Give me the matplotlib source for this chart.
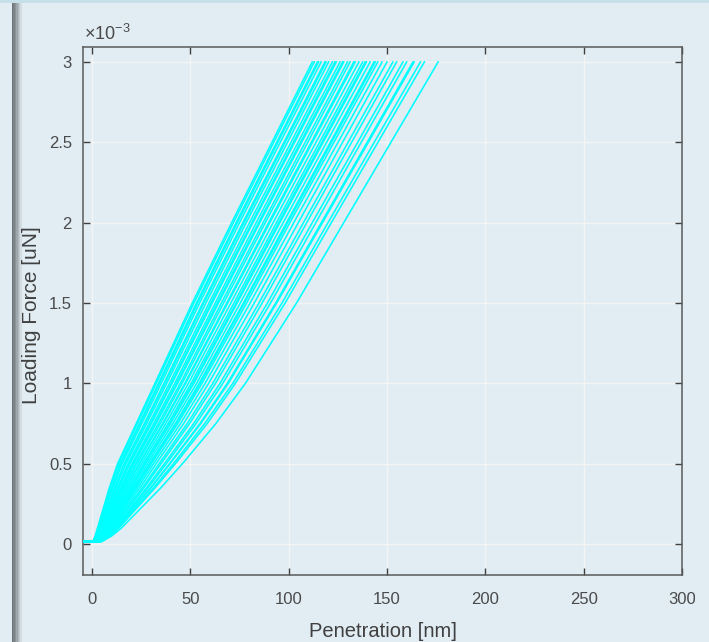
import matplotlib
matplotlib.use("Agg")
import matplotlib.pyplot as plt
from matplotlib.ticker import FuncFormatter
from matplotlib.patches import Rectangle
from matplotlib.transforms import Bbox

plt.rcParams['font.family'] = ['Liberation Sans', 'DejaVu Sans']
plt.rcParams['mathtext.fontset'] = 'custom'
plt.rcParams['mathtext.rm'] = 'Liberation Sans'
plt.rcParams['mathtext.it'] = 'Liberation Sans'

# ---------------- data ----------------
# load levels (uN) at which each curve's penetration depth was read;
# the first entry is the pre-contact point
load_levels = [0.000015, 0.000015, 0.00005, 0.0001, 0.0002, 0.00035, 0.0005,
               0.00075, 0.0010, 0.0015, 0.0020, 0.0025, 0.0030]

precontact_depth = -6.0

# penetration depth (nm) of each loading curve at the load levels above (after pre-contact)
curves = [
    [0.5, 1.6, 2.8, 5.2, 8.8, 13.0, 22.5, 32.0, 51.0, 71.0, 91.5, 112.0],
    [0.6, 1.7, 3.0, 5.5, 9.2, 13.5, 23.1, 32.7, 51.8, 71.9, 92.4, 113.0],
    [0.7, 1.9, 3.3, 5.9, 9.9, 14.3, 24.1, 33.8, 53.1, 73.3, 93.9, 114.6],
    [0.7, 2.0, 3.4, 6.1, 10.1, 14.7, 24.5, 34.3, 53.7, 73.9, 94.5, 115.2],
    [0.8, 2.2, 3.7, 6.5, 10.6, 15.3, 25.3, 35.2, 54.7, 75.0, 95.7, 116.5],
    [1.0, 2.4, 4.0, 7.0, 11.4, 16.3, 26.6, 36.6, 56.3, 76.7, 97.6, 118.4],
    [1.0, 2.5, 4.1, 7.2, 11.7, 16.6, 27.0, 37.1, 56.8, 77.3, 98.2, 119.0],
    [1.1, 2.7, 4.4, 7.5, 12.2, 17.3, 27.8, 38.0, 57.9, 78.4, 99.4, 120.3],
    [1.2, 2.9, 4.8, 8.1, 13.0, 18.3, 29.0, 39.4, 59.5, 80.1, 101.2, 122.2],
    [1.3, 3.1, 5.0, 8.4, 13.5, 18.9, 29.8, 40.3, 60.5, 81.3, 102.4, 123.5],
    [1.4, 3.2, 5.1, 8.6, 13.8, 19.3, 30.2, 40.7, 61.1, 81.8, 103.0, 124.2],
    [1.5, 3.5, 5.5, 9.1, 14.6, 20.3, 31.4, 42.1, 62.7, 83.5, 104.8, 126.1],
    [1.6, 3.6, 5.7, 9.5, 15.1, 20.9, 32.2, 43.0, 63.7, 84.7, 106.0, 127.4],
    [1.6, 3.7, 5.9, 9.7, 15.4, 21.3, 32.6, 43.5, 64.3, 85.3, 106.6, 128.0],
    [1.8, 4.0, 6.2, 10.2, 16.1, 22.2, 33.8, 44.9, 65.8, 87.0, 108.4, 129.9],
    [1.9, 4.1, 6.5, 10.5, 16.7, 22.9, 34.7, 45.8, 66.9, 88.1, 109.7, 131.2],
    [2.0, 4.4, 6.8, 11.1, 17.5, 23.9, 35.9, 47.2, 68.5, 89.8, 111.5, 133.1],
    [2.0, 4.5, 7.0, 11.3, 17.7, 24.2, 36.3, 47.6, 69.0, 90.4, 112.1, 133.8],
    [2.2, 4.7, 7.3, 11.8, 18.5, 25.2, 37.5, 49.0, 70.6, 92.1, 113.9, 135.7],
    [2.3, 5.0, 7.7, 12.3, 19.3, 26.2, 38.7, 50.4, 72.2, 93.8, 115.7, 137.6],
    [2.4, 5.1, 7.9, 12.7, 19.8, 26.9, 39.5, 51.3, 73.3, 94.9, 116.9, 138.9],
    [2.4, 5.2, 8.1, 12.9, 20.1, 27.2, 39.9, 51.8, 73.8, 95.5, 117.5, 139.5],
    [2.6, 5.5, 8.4, 13.4, 20.9, 28.2, 41.1, 53.2, 75.4, 97.2, 119.3, 141.4],
    [2.7, 5.7, 8.8, 13.9, 21.6, 29.2, 42.4, 54.5, 77.0, 98.9, 121.2, 143.4],
    [2.8, 5.8, 8.9, 14.1, 21.9, 29.5, 42.8, 55.0, 77.5, 99.5, 121.8, 144.0],
    [2.8, 6.0, 9.1, 14.5, 22.4, 30.2, 43.6, 55.9, 78.6, 100.6, 123.0, 145.3],
    [3.0, 6.3, 9.6, 15.1, 23.3, 31.3, 45.0, 57.5, 80.4, 102.6, 125.1, 147.5],
    [3.2, 6.6, 10.1, 15.8, 24.4, 32.6, 46.6, 59.3, 82.5, 104.9, 127.4, 150.0],
    [3.4, 7.0, 10.6, 16.6, 25.6, 34.1, 48.4, 61.4, 84.9, 107.5, 130.2, 153.0],
    [3.5, 7.2, 11.0, 17.1, 26.4, 35.1, 49.6, 62.8, 86.5, 109.2, 132.0, 154.9],
    [3.7, 7.7, 11.6, 18.0, 27.7, 36.8, 51.7, 65.1, 89.2, 112.0, 135.1, 158.1],
    [3.9, 7.9, 12.0, 18.6, 28.5, 37.8, 52.9, 66.5, 90.8, 113.8, 136.9, 160.0],
    [4.1, 8.3, 12.6, 19.4, 29.8, 39.4, 54.9, 68.8, 93.4, 116.6, 139.9, 163.2],
    [4.2, 8.4, 12.7, 19.6, 30.0, 39.7, 55.3, 69.3, 93.9, 117.2, 140.5, 163.8],
    [4.4, 8.8, 13.3, 20.5, 31.3, 41.4, 57.3, 71.6, 96.6, 120.0, 143.5, 167.0],
    [4.5, 9.1, 13.7, 21.0, 32.1, 42.4, 58.6, 72.9, 98.2, 121.7, 145.4, 169.0],
    [5.0, 10.0, 15.0, 23.0, 35.0, 46.0, 63.0, 78.0, 104.0, 128.0, 152.0, 176.0],
]

x_ticks = [0, 50, 100, 150, 200, 250, 300]
y_ticks = [0, 0.0005, 0.0010, 0.0015, 0.0020, 0.0025, 0.0030]
x_label = "Penetration [nm]"
y_label = "Loading Force [uN]"
y_exponent_text = "×10$^{\\mathregular{-3}}$"

# ---------------- figure ----------------
bg = '#e1edf3'
fig = plt.figure(figsize=(7.09, 6.42), dpi=100, facecolor=bg)

# window decorations: top strip and left shadow bar
fig.patches.append(Rectangle((0, 1 - 3 / 642), 1, 3 / 642, transform=fig.transFigure,
                             facecolor='#c6e0ea', edgecolor='none', zorder=-10))
shade = ['#6e7478', '#7d8488', '#8d9599', '#9ea7ab', '#b0b9bd', '#c2cbcf', '#d2dce1']
for i, c in enumerate(shade):
    fig.patches.append(Rectangle(((12 + i * 1.4) / 709, 0), 1.4 / 709, 1 - 3 / 642,
                                 transform=fig.transFigure, facecolor=c,
                                 edgecolor='none', zorder=-10))

ax = fig.add_axes([83 / 709, 1 - 575 / 642, 599 / 709, 528 / 642])
ax.set_facecolor(bg)

for c in curves:
    ax.plot([precontact_depth] + c, load_levels, color='#00ffff', lw=1.15, zorder=3)

ax.set_xlim(-4.6, 300)
ax.set_ylim(-0.000193, 0.003093)
ax.set_xticks(x_ticks)
ax.set_yticks(y_ticks)
ax.yaxis.set_major_formatter(FuncFormatter(lambda v, p: '%g' % round(v * 1e3, 6)))

ax.grid(True, color='#f4f4f4', lw=1.0, zorder=1)
ax.set_axisbelow(True)
for s in ax.spines.values():
    s.set_color('#5a5a5a')
    s.set_linewidth(1.1)

ax.tick_params(direction='in', length=5, width=1.0, color='#404040',
               top=True, right=True, labelsize=12, labelcolor='#4a4a4a')
ax.tick_params(axis='x', pad=12)
ax.tick_params(axis='y', pad=8)

ax.text(0.002, 1.006, y_exponent_text, transform=ax.transAxes, fontsize=13,
        color='#4a4a4a', ha='left', va='bottom')

ax.set_xlabel(x_label, fontsize=14.5, color='#404040')
ax.set_ylabel(y_label, fontsize=15, color='#404040')
ax.xaxis.set_label_coords((383 - 83) / 599, -(622 - 575) / 528)
ax.yaxis.set_label_coords(-(83 - 41) / 599, 0.492)
ax.yaxis.label.set_zorder(10)

fig.canvas.draw()
clip = Bbox([[0, 0], [695, 642]])
for lab in ax.get_xticklabels():
    lab.set_clip_box(clip)
    lab.set_clip_on(True)

fig.savefig('out.png', dpi=100, facecolor=bg)
